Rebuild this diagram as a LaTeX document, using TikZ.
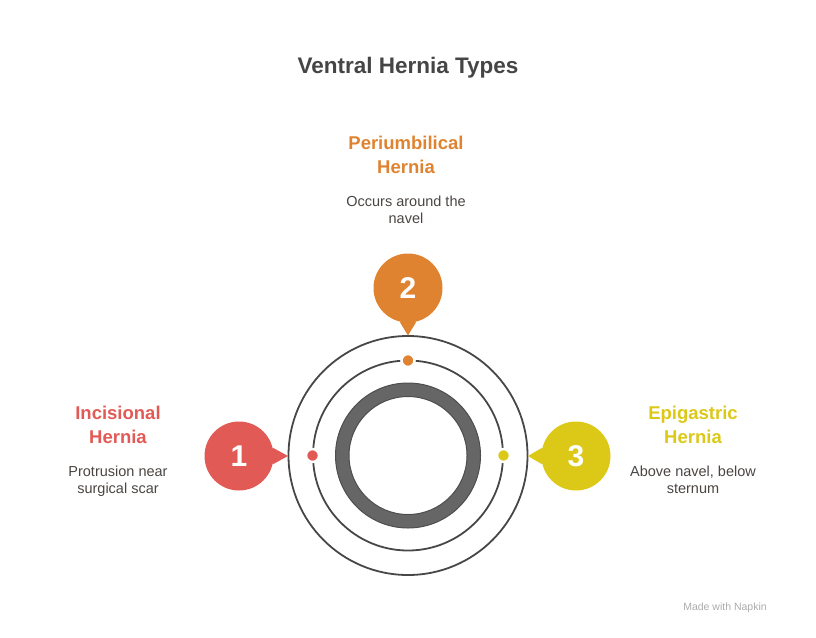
\documentclass[tikz,border=0pt]{standalone}
\usepackage{fontspec}
\setmainfont{Liberation Sans}
\usetikzlibrary{positioning}

\definecolor{incred}{HTML}{E25A56}
\definecolor{periorange}{HTML}{DF8330}
\definecolor{epiyellow}{HTML}{DCC817}
\definecolor{ringgray}{HTML}{666666}
\definecolor{ringedge}{HTML}{4E4E4E}
\definecolor{linegray}{HTML}{474747}
\definecolor{titlegray}{HTML}{454545}
\definecolor{descgray}{HTML}{4A4542}
\definecolor{markgray}{HTML}{ABABAB}

\begin{document}
\begin{tikzpicture}[
  x=1pt, y=-1pt,
  node distance=22pt,
  num/.style={circle, minimum size=69pt, inner sep=0pt, text=white, font=\fontsize{30}{32}\selectfont\bfseries},
  dot/.style={circle, minimum size=13pt, inner sep=0pt, draw=white, line width=2.5pt},
  head/.style={anchor=north, align=center, inner sep=0pt, font=\fontsize{18.5}{24}\selectfont\bfseries},
  desc/.style={align=center, inner sep=0pt, text=descgray, font=\fontsize{14.5}{17}\selectfont},
  ring/.style={draw=linegray, line width=1.8pt}
]
\useasboundingbox (0,0) rectangle (816,637);

\node[font=\fontsize{22.5}{26}\selectfont\bfseries, text=titlegray] (title) at (408,68) {Ventral Hernia Types};

% rings
\coordinate (c) at (408,455.5);
\draw[ring] (c) circle[radius=119.5pt];
\draw[ring] (c) circle[radius=95pt];
\filldraw[fill=ringgray, draw=ringedge, line width=1pt, even odd rule]
  (c) circle[radius=72.5pt] (c) circle[radius=59pt];

\node[dot, fill=incred] (d1) at (312.5,455.5) {};
\node[dot, fill=periorange] (d2) at (408,360.5) {};
\node[dot, fill=epiyellow] (d3) at (503.5,455.5) {};

% numbered markers
\node[num, fill=incred] (n1) at (239,456) {1};
\node[num, fill=periorange] (n2) at (408,288) {2};
\node[num, fill=epiyellow] (n3) at (576,456) {3};

\coordinate (p1) at (288,456);
\coordinate (p2) at (408,335.5);
\coordinate (p3) at (528,456);

\fill[incred] (n1.14) -- (p1) -- (n1.-14) -- cycle;
\fill[periorange] (n2.-76) -- (p2) -- (n2.-104) -- cycle;
\fill[epiyellow] (n3.166) -- (p3) -- (n3.194) -- cycle;

% labels
\node[head, text=incred] (h1) at (118,406) {Incisional\\Hernia};
\node[desc, below=of h1] (t1) {Protrusion near\\surgical scar};

\node[head, text=periorange] (h2) at (406,136) {Periumbilical\\Hernia};
\node[desc, below=of h2] (t2) {Occurs around the\\navel};

\node[head, text=epiyellow] (h3) at (693,406) {Epigastric\\Hernia};
\node[desc, below=of h3] (t3) {Above navel, below\\sternum};

\node[text=markgray, font=\fontsize{10.5}{12}\selectfont] (mark) at (725,608) {Made with Napkin};

\end{tikzpicture}
\end{document}
